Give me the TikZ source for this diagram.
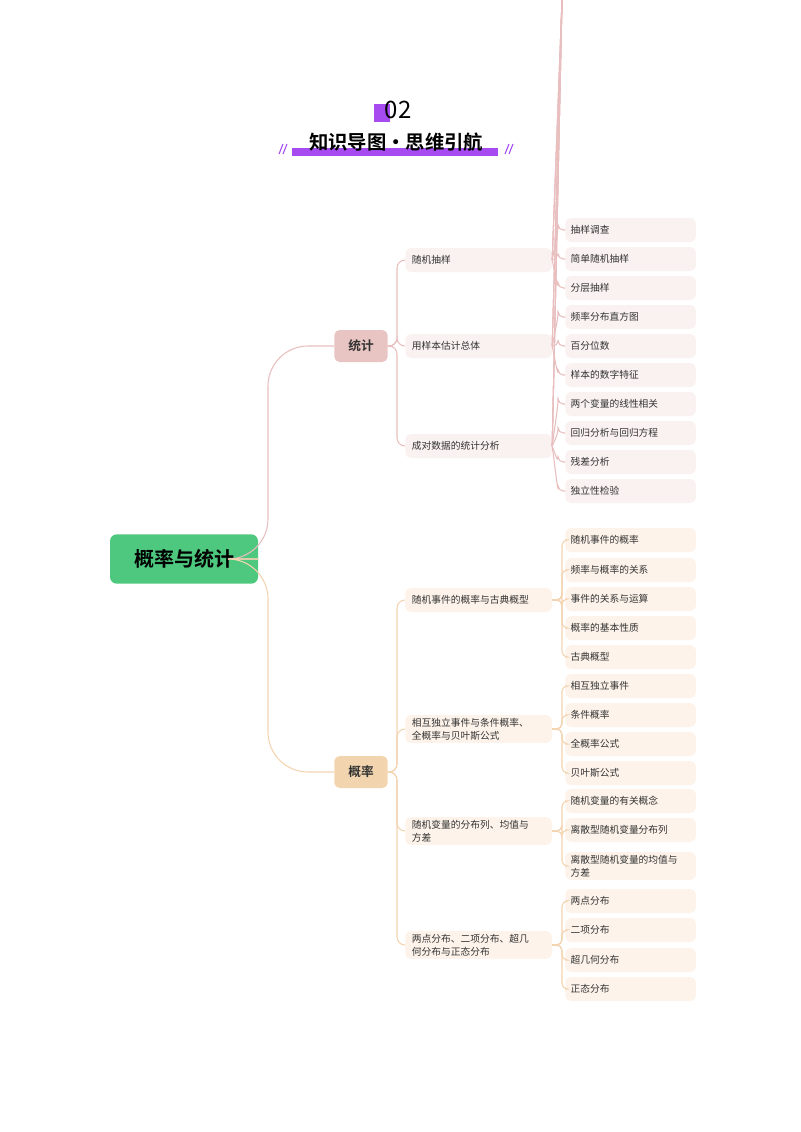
\documentclass[tikz,border=0pt]{standalone}
\usepackage{fontspec}
\setmainfont{Noto Sans CJK SC}
\newfontfamily\cjkb{Noto Sans CJK SC Bold}
\definecolor{rootg}{HTML}{4DC87E}
\definecolor{tjc}{HTML}{E8C4C2}
\definecolor{glc}{HTML}{F2D5AE}
\definecolor{tjl}{HTML}{E8BEBE}
\definecolor{gll}{HTML}{F3D3B0}
\definecolor{tjf}{HTML}{FAF2F1}
\definecolor{glf}{HTML}{FDF3EA}
\definecolor{purp}{HTML}{A54BF0}
\definecolor{txt}{HTML}{333333}
\begin{document}
\begin{tikzpicture}[x=0.75pt,y=-0.75pt,
  l2/.style={anchor=west,minimum width=108pt,minimum height=18pt,rounded corners=4pt,text width=100pt,align=left,font=\fontsize{7.3}{10}\selectfont,text=txt,inner xsep=5pt,inner ysep=2pt},
  lf/.style={anchor=west,minimum width=97pt,minimum height=18pt,rounded corners=4pt,text width=90pt,align=left,font=\fontsize{7.3}{10}\selectfont,text=txt,inner xsep=4pt,inner ysep=2pt},
  l1/.style={minimum width=40pt,minimum height=24pt,rounded corners=4pt,font=\cjkb\fontsize{9.5}{11}\selectfont,text=txt},
  tjline/.style={draw=tjl,line width=0.8pt,rounded corners=6pt},
  glline/.style={draw=gll,line width=0.8pt,rounded corners=6pt}]
\useasboundingbox (0,0) rectangle (800,1132);
% title
\fill[purp] (374,104) rectangle (390,122);
\node (num) at (398,110) {\fontsize{18}{20}\selectfont 02};
\fill[purp] (292,148) rectangle (498,156);
\node (title) at (396,142) {\cjkb\fontsize{14.5}{16}\selectfont 知识导图·思维引航};
\draw[purp,line width=0.8pt] (279,154)--(283,144) (283,154)--(287,144) (505,154)--(509,144) (509,154)--(513,144);
% root
\node[fill=rootg,minimum width=111pt,minimum height=37pt,rounded corners=5pt,font=\cjkb\fontsize{15}{17}\selectfont] (root) at (184,559) {概率与统计};
\node[l1,fill=tjc] (tj) at (361,346) {统计};
\node[l1,fill=glc] (gl) at (361,772) {概率};
\draw[tjline,rounded corners=30pt] (root.east) -- (268,559) |- (tj.west);
\draw[glline,rounded corners=30pt] (root.east) -- (268,559) |- (gl.west);
% level 2
\foreach \n/\y/\t in {a/260/随机抽样,b/346/用样本估计总体,c/446/成对数据的统计分析}{
  \node[l2,fill=tjf] (\n) at (405,\y) {\t};
  \draw[tjline] (tj.east) -- (397,346) |- (\n.west);
}
\foreach \n/\y/\t in {d/600/随机事件的概率与古典概型,e/729/{相互独立事件与条件概率、\\全概率与贝叶斯公式},f/831/{随机变量的分布列、均值与\\方差},g/945/{两点分布、二项分布、超几\\何分布与正态分布}}{
  \node[l2,fill=glf] (\n) at (405,\y) {\t};
  \draw[glline] (gl.east) -- (397,772) |- (\n.west);
}
% leaves
\foreach \p/\n/\y/\t in {a/a1/230/抽样调查,a/a2/259/简单随机抽样,a/a3/288/分层抽样,
 b/b1/317/频率分布直方图,b/b2/346/百分位数,b/b3/375/样本的数字特征,
 c/c1/404/两个变量的线性相关,c/c2/433/回归分析与回归方程,c/c3/462/残差分析,c/c4/491/独立性检验}{
  \node[lf,fill=tjf] (\n) at (565,\y) {\t};
  \draw[tjline,rounded corners=4pt] (\p.east) -- (562,\y-\y+0) ;
}
\foreach \p/\n/\y/\t in {d/d1/540/随机事件的概率,d/d2/570/频率与概率的关系,d/d3/599/事件的关系与运算,d/d4/628/概率的基本性质,d/d5/657/古典概型,
 e/e1/686/相互独立事件,e/e2/715/条件概率,e/e3/744/全概率公式,e/e4/773/贝叶斯公式,
 f/f1/801/随机变量的有关概念,f/f2/830/离散型随机变量分布列,f/f3/866/{离散型随机变量的均值与\\方差},
 g/g1/901/两点分布,g/g2/930/二项分布,g/g3/960/超几何分布,g/g4/989/正态分布}{
  \node[lf,fill=glf] (\n) at (565,\y) {\t};
}
\foreach \p/\n in {a/a1,a/a2,a/a3,b/b1,b/b2,b/b3,c/c1,c/c2,c/c3,c/c4}{
  \draw[tjline,rounded corners=4pt] (\p.east) -- ([xshift=-3pt]\n.west -| 562,0) |- (\n.west);
}
\foreach \p/\n in {d/d1,d/d2,d/d3,d/d4,d/d5,e/e1,e/e2,e/e3,e/e4,f/f1,f/f2,f/f3,g/g1,g/g2,g/g3,g/g4}{
  \draw[glline,rounded corners=4pt] (\p.east) -- (\p.east -| 562,0) |- (\n.west);
}
\end{tikzpicture}
\end{document}
